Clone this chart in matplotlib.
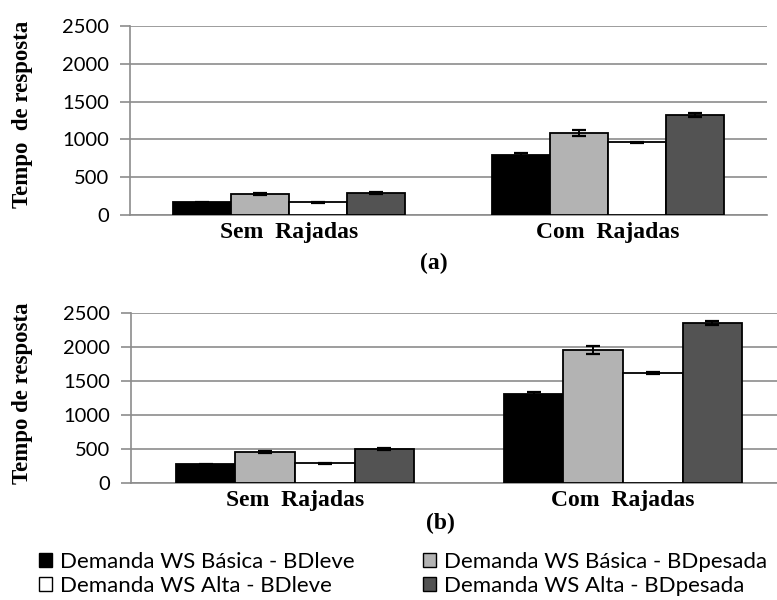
import matplotlib
matplotlib.use("Agg")
import matplotlib.pyplot as plt
from matplotlib.patches import Patch
import numpy as np

categories = ["Sem  Rajadas", "Com  Rajadas"]
series_names = [
    "Demanda WS Básica - BDleve",
    "Demanda WS Básica - BDpesada",
    "Demanda WS Alta - BDleve",
    "Demanda WS Alta - BDpesada",
]
series_colors = ["#000000", "#b3b3b3", "#ffffff", "#535353"]

# panel (a)
values_a = [
    [170, 800],    # Básica - BDleve
    [280, 1080],   # Básica - BDpesada
    [170, 960],    # Alta - BDleve
    [290, 1320],   # Alta - BDpesada
]
errors_a = [
    [8, 15],
    [10, 40],
    [8, 12],
    [10, 30],
]

# panel (b)
values_b = [
    [275, 1315],
    [450, 1960],
    [285, 1615],
    [495, 2355],
]
errors_b = [
    [8, 18],
    [15, 55],
    [8, 15],
    [10, 25],
]

y_ticks = [0, 500, 1000, 1500, 2000, 2500]
panel_labels = ["(a)", "(b)"]

grid_color = "#8c8c8c"
tick_font = "Lato"
serif_font = "Liberation Serif"

fig = plt.figure(figsize=(7.77, 6.0), dpi=100)

ax_a = fig.add_axes([130 / 777, 1 - 215 / 600, 637 / 777, 189 / 600])
ax_b = fig.add_axes([131 / 777, 1 - 482.7 / 600, 656 / 777, 169.4 / 600])


def draw_panel(ax, values, errors):
    n = len(series_names)
    x = np.arange(len(categories))
    width = 1.0 / (n + 1.5)
    for i in range(n):
        offs = (i - (n - 1) / 2) * width
        ax.bar(x + offs, values[i], width, color=series_colors[i],
               edgecolor="black", linewidth=1.3, zorder=3)
        ax.errorbar(x + offs, values[i], yerr=errors[i], fmt="none",
                    ecolor="black", elinewidth=1.4, capsize=5, capthick=1.6,
                    zorder=4)
    ax.set_xlim(-0.5, len(categories) - 0.5)
    ax.set_ylim(0, 2500)
    ax.set_yticks(y_ticks)
    ax.set_yticklabels([str(t) for t in y_ticks], fontfamily=tick_font,
                       fontsize=14.5)
    ax.set_xticks(x)
    ax.set_xticklabels(categories, fontfamily=serif_font, fontweight="bold",
                       fontsize=17)
    ax.tick_params(axis="x", length=0, pad=5)
    ax.tick_params(axis="y", length=7, width=1.2, color=grid_color, pad=8)
    ax.yaxis.grid(True, color=grid_color, linewidth=1.2, zorder=0)
    ax.set_axisbelow(True)
    for side in ["top", "right"]:
        ax.spines[side].set_visible(False)
    for side in ["left", "bottom"]:
        ax.spines[side].set_color(grid_color)
        ax.spines[side].set_linewidth(1.2)


draw_panel(ax_a, values_a, errors_a)
draw_panel(ax_b, values_b, errors_b)

ax_a.set_ylabel("Tempo  de resposta", fontfamily=serif_font,
                fontweight="bold", fontsize=16.5)
ax_b.set_ylabel("Tempo de resposta", fontfamily=serif_font,
                fontweight="bold", fontsize=16.5)
ax_a.yaxis.label.set_va("center")
ax_b.yaxis.label.set_va("center")
ax_a.yaxis.set_label_coords(-(130 - 23) / 637, 0.53)
ax_b.yaxis.set_label_coords(-(131 - 23) / 656, 0.53)

fig.text(434 / 777, 1 - 263 / 600, panel_labels[0], fontfamily=serif_font,
         fontweight="bold", fontsize=17, ha="center", va="center")
fig.text(440 / 777, 1 - 523 / 600, panel_labels[1], fontfamily=serif_font,
         fontweight="bold", fontsize=17, ha="center", va="center")

handles = [Patch(facecolor=c, edgecolor="black", linewidth=1.0)
           for c in series_colors]
legend_kw = dict(frameon=False, prop={"family": tick_font, "size": 16},
                 handlelength=0.6, handleheight=0.6, handletextpad=0.35,
                 labelspacing=0.18, borderpad=0, borderaxespad=0)
fig.legend([handles[0], handles[2]], [series_names[0], series_names[2]],
           loc="upper left", bbox_to_anchor=(39 / 777, 1 - 552 / 600),
           **legend_kw)
fig.legend([handles[1], handles[3]], [series_names[1], series_names[3]],
           loc="upper left", bbox_to_anchor=(423 / 777, 1 - 552 / 600),
           **legend_kw)

fig.savefig("out.png", dpi=100)
